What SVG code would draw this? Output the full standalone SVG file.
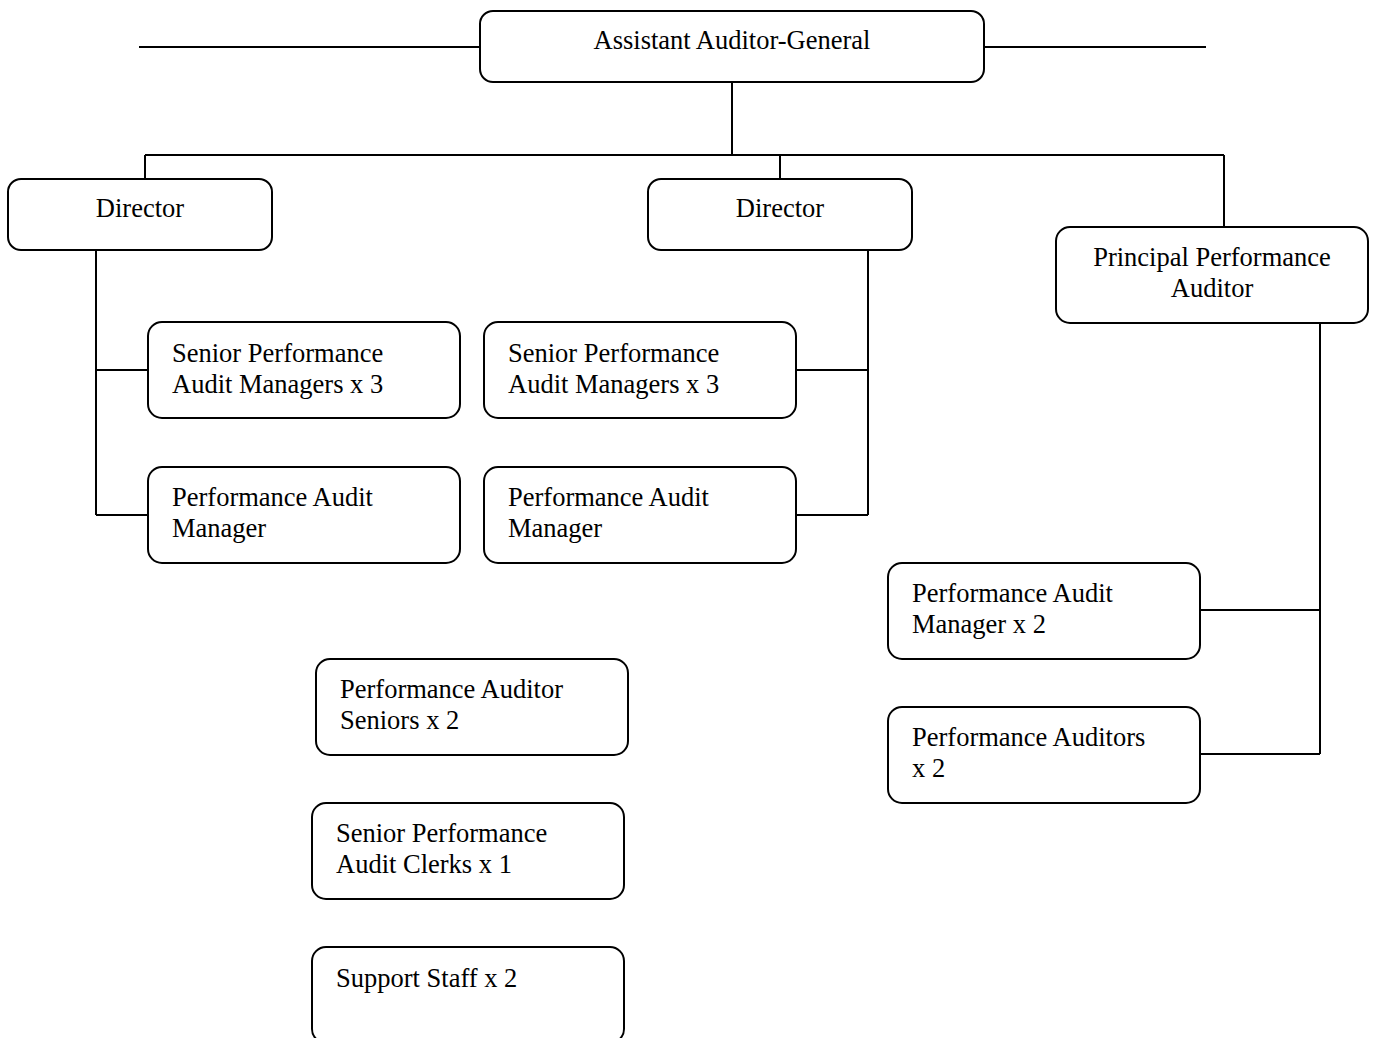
<svg xmlns="http://www.w3.org/2000/svg" width="1374" height="1038" viewBox="0 0 1374 1038">
<style>
.box{fill:#fff;stroke:#000;stroke-width:2}
.ln{stroke:#000;stroke-width:2;fill:none}
text{font-family:"Liberation Serif","Times New Roman",serif;font-size:26.5px;fill:#000}
.c{text-anchor:middle}
</style>
<rect width="1374" height="1038" fill="#fff"/>
<g id="connectors">
<path class="ln" d="M139 47H480M984 47H1206"/>
<path class="ln" d="M732 82V155M145 155H1224M145 155V179M780 155V179M1224 155V227"/>
<path class="ln" d="M96 250V515M96 370H148M96 515H148"/>
<path class="ln" d="M868 250V515M796 370H868M796 515H868"/>
<path class="ln" d="M1320 323V754M1200 610H1320M1200 754H1320"/>
</g>
<g id="aag"><rect class="box" x="480" y="11" width="504" height="71" rx="13"/><text class="c" x="732" y="49">Assistant Auditor-General</text></g>
<g id="director1"><rect class="box" x="8" y="179" width="264" height="71" rx="13"/><text class="c" x="140" y="217">Director</text></g>
<g id="director2"><rect class="box" x="648" y="179" width="264" height="71" rx="13"/><text class="c" x="780" y="217">Director</text></g>
<g id="ppa"><rect class="box" x="1056" y="227" width="312" height="96" rx="14"/><text class="c" x="1212" y="266">Principal Performance</text><text class="c" x="1212" y="297">Auditor</text></g>
<g id="spam1"><rect class="box" x="148" y="322" width="312" height="96" rx="14"/><text x="172" y="362">Senior Performance</text><text x="172" y="393">Audit Managers x 3</text></g>
<g id="pam1"><rect class="box" x="148" y="467" width="312" height="96" rx="14"/><text x="172" y="506">Performance Audit</text><text x="172" y="537">Manager</text></g>
<g id="spam2"><rect class="box" x="484" y="322" width="312" height="96" rx="14"/><text x="508" y="362">Senior Performance</text><text x="508" y="393">Audit Managers x 3</text></g>
<g id="pam2"><rect class="box" x="484" y="467" width="312" height="96" rx="14"/><text x="508" y="506">Performance Audit</text><text x="508" y="537">Manager</text></g>
<g id="pamx2"><rect class="box" x="888" y="563" width="312" height="96" rx="14"/><text x="912" y="602">Performance Audit</text><text x="912" y="633">Manager x 2</text></g>
<g id="pax2"><rect class="box" x="888" y="707" width="312" height="96" rx="14"/><text x="912" y="746">Performance Auditors</text><text x="912" y="777">x 2</text></g>
<g id="pas"><rect class="box" x="316" y="659" width="312" height="96" rx="14"/><text x="340" y="698">Performance Auditor</text><text x="340" y="729">Seniors x 2</text></g>
<g id="spac"><rect class="box" x="312" y="803" width="312" height="96" rx="14"/><text x="336" y="842">Senior Performance</text><text x="336" y="873">Audit Clerks x 1</text></g>
<g id="support"><rect class="box" x="312" y="947" width="312" height="96" rx="14"/><text x="336" y="987">Support Staff x 2</text></g>
</svg>
